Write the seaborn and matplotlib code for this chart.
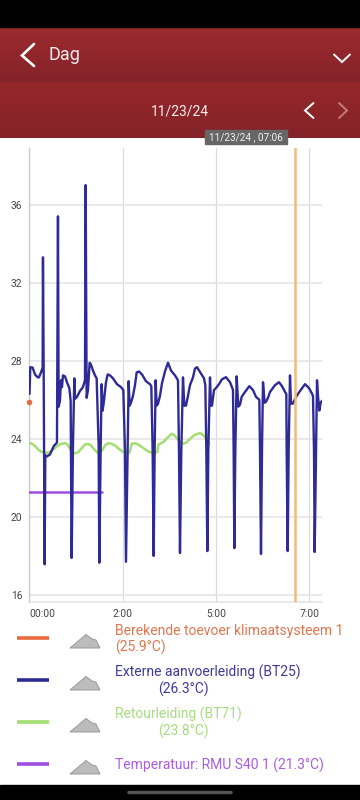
import numpy as np
import pandas as pd
import matplotlib
matplotlib.use("Agg")
import matplotlib.pyplot as plt
from matplotlib.patches import Polygon, Rectangle, FancyBboxPatch
import seaborn as sns

# ---------- data ----------
bt25_min = [0.3,1.5,5,8.5,12.5,14.5,17.5,20,20.5,21.5,23,24,26.5,31,37,41.5,43,44,46,47.5,49,50.5,53.5,56.5,60,62,63.5,65.5,67.5,68.5,71.5,76,80.5,83.5,84.5,86,88,90.5,92.5,95.5,98.5,101,102,104,105,107,108.5,110,112,115,117.5,121,125.5,131.5,137.5,141,143.5,145,147.5,149,150.5,152.5,155.5,158.5,161,164.5,169,175,181,183,185,186.5,188,189.5,191,193,196,199,203.5,208,212.5,218.5,223,224.5,226,228,230.5,232.5,235,238,241,245.5,248.5,251.5,257.5,262,264,265.5,267,268.5,271,272.5,274,277,280,284.5,289,295,301,304,305.5,306.5,307.5,309,311,313.5,316,318.5,323.5,330,335.5,340,345,346,347.5,349,350.5,353,355,358,361,368.5,374.5,379,383.5,385.5,386,387.5,389,391,392.5,395,401,406,413.5,419.5,423.5,425.5,427,428,430,431.5,433,435,437,439]
bt25_val = [26.3,27.67,27.65,27.3,27.15,27.15,27.4,27.65,33.3,27.75,17.57,23.15,23.1,23.2,23.65,23.8,35.4,25.65,25.95,27,26.65,27.25,27.2,26.9,26.6,25.95,17.9,23.65,27.1,26.05,26.15,26.45,26.65,27,37,26.1,26.5,27.9,27.8,27.5,27.25,27.1,25.95,23.65,17.65,23.4,26.8,25.45,25.95,26.9,27.3,27.25,27.1,26.8,26.65,26.5,23.4,17.7,23.65,26.95,25.7,25.85,26.2,26.75,27.4,27.45,27.3,26.95,26.8,26.7,23.4,18,23.4,27,25.7,25.8,26.2,26.85,27.45,27.9,27.5,27.25,27,23.4,18.15,23.4,27.15,25.7,25.7,26.2,26.75,27.15,27.6,27.67,27.35,27.1,26.75,23.4,18.25,23.4,27.15,25.7,25.7,26.5,26.6,26.8,27.05,27.16,26.9,26.65,26.5,23.4,18.4,23.4,27.2,25.65,25.75,26.15,26.4,26.7,26.5,26.15,26,23.4,18.1,23.4,26.9,25.85,25.9,26.1,26.4,26.75,26.9,26.7,26.4,26.3,23.4,18.25,23.4,27.25,25.8,25.8,26.2,26.45,26.8,26.6,26.35,26.2,23.4,18.2,23.4,27,26.2,25.45,25.85,25.95]

bt71_min = [0,3,6,10,13.5,18,23.5,27,31,36,41,47,53.5,56,58.5,62,66,70,73.5,78,83.5,88,92,97,102,106,109,113.5,118.5,123,128.5,135,141,150,152,153.5,157,161,168,176,181,186,192,193.5,197,201,207,213.5,217,221,226,231,236,241,248,256,260,263.5,267,270]
bt71_val = [23.78,23.77,23.71,23.58,23.44,23.34,23.29,23.28,23.32,23.46,23.6,23.73,23.78,23.74,23.65,23.42,23.27,23.27,23.32,23.5,23.71,23.74,23.68,23.48,23.3,23.27,23.4,23.66,23.78,23.75,23.66,23.47,23.32,23.29,23.5,23.75,23.77,23.75,23.6,23.4,23.32,23.27,23.32,23.7,23.77,23.83,24.05,24.26,24.2,24.05,23.85,23.75,23.82,24.0,24.2,24.29,24.22,24.09,23.9,23.75]

rmu_min = [0, 54, 108.5]
rmu_val = [21.3, 21.3, 21.3]

calc_min = [0]
calc_val = [25.9]

cursor_min = 398.5
y_ticks = [16, 20, 24, 28, 32, 36]
x_ticks = [0, 140, 280, 420]
x_labels = ["00:00", "2:00", "5:00", "7:00"]
legend_colors = ["#e96a3e", "#2e2a96", "#a4dd72", "#a04de0"]
text_colors = ["#e0764f", "#3f3b98", "#a8dc80", "#a85ee0"]

# ---------- figure ----------
sns.set_theme(style="white")
plt.rcParams["font.family"] = ["Roboto", "DejaVu Sans"]
W, H = 360, 800
fig = plt.figure(figsize=(W/100, H/100), dpi=100, facecolor="white")

bg = fig.add_axes([0, 0, 1, 1], zorder=0)
bg.set_xlim(0, W); bg.set_ylim(H, 0); bg.axis("off")

def grad(y0, y1, c0, c1):
    g = np.linspace(0, 1, 64)[:, None]
    cmap = matplotlib.colors.LinearSegmentedColormap.from_list("g", [c0, c1])
    bg.imshow(g, extent=(0, W, y1, y0), cmap=cmap, aspect="auto", zorder=1)

bg.add_patch(Rectangle((0, 0), W, 26.5, color="black", zorder=2))
bg.add_patch(Rectangle((0, 785), W, 15, color="black", zorder=2))
grad(27, 83, "#9c2a2e", "#84232a")
grad(83, 138.5, "#952729", "#84232a")
bg.set_xlim(0, W); bg.set_ylim(H, 0)
bg.add_patch(FancyBboxPatch((128, 791.5), 104, 2, boxstyle="round,pad=0,rounding_size=1", color="#555555", zorder=3))

def chev(xs, ys, color="white", lw=2.0):
    bg.plot(xs, ys, color=color, lw=lw, solid_capstyle="round", solid_joinstyle="miter", zorder=4)

chev([34, 22, 34], [44, 55.5, 66], lw=1.9)
chev([334, 342, 350], [54.5, 62, 54.5], lw=1.4)
chev([313.5, 305, 313.5], [103, 110.5, 118], lw=1.4)
chev([339, 347, 339], [103, 110.5, 118], color="#c77a7c", lw=1.4)
bg.text(48, 55.5, "Dag", color="#f6eeee", fontsize=13, va="center", ha="left", zorder=4)
bg.text(180, 111, "11/23/24", color="#f6eeee", fontsize=10, va="center", ha="center", zorder=4)
bg.add_patch(Rectangle((205, 130), 82, 13.5, color="#666666", zorder=5))
bg.text(246, 137, "11/23/24 , 07:06", color="#f0f0f0", fontsize=7.2, va="center", ha="center", zorder=6)

# ---------- chart ----------
left, right, top, bottom = 29.3, 322, 148, 602
ax = fig.add_axes([left/W, 1-bottom/H, (right-left)/W, (bottom-top)/H], zorder=2)
ax.patch.set_alpha(0)
ax.set_xlim(0, 439)
ax.set_ylim(15.64, 38.9)

ax.set_yticks(y_ticks); ax.set_xticks(x_ticks); ax.set_xticklabels(x_labels)
ax.grid(axis="y", color="#e3e3e3", lw=1.1)
ax.grid(axis="x", color="#dcdcdc", lw=0.9)
ax.set_axisbelow(True)
for s in ["top", "right"]:
    ax.spines[s].set_visible(False)
ax.spines["left"].set_color("#cccccc"); ax.spines["left"].set_linewidth(1.0)
ax.spines["bottom"].set_color("#e3e3e3"); ax.spines["bottom"].set_linewidth(1.1)
ax.tick_params(axis="both", length=0, labelsize=7.4, labelcolor="#444444")
ax.tick_params(axis="x", pad=5)
ax.tick_params(axis="y", pad=5)
ax.get_xticklabels()[0].set_ha("left")
ax.get_xticklabels()[0].set_x(-1)

joins = dict(solid_joinstyle="round", solid_capstyle="round")
sns.lineplot(x=rmu_min, y=rmu_val, ax=ax, color="#a04de0", lw=1.8, sort=False, estimator=None, zorder=3, **joins)
sns.lineplot(x=bt71_min, y=bt71_val, ax=ax, color="#a4dd72", lw=1.8, sort=False, estimator=None, zorder=3, **joins)
sns.lineplot(x=bt25_min, y=bt25_val, ax=ax, color="#2e2a96", lw=1.7, sort=False, estimator=None, zorder=4, **joins)
ax.axvline(cursor_min, color="#f0bb7c", lw=1.8, zorder=5)
sns.scatterplot(x=calc_min, y=calc_val, ax=ax, color="#e96a3e", s=16, linewidth=0, clip_on=False, zorder=6)
ax.set_xlabel(""); ax.set_ylabel("")

# ---------- legend ----------
rows = [
    (638, [("Berekende toevoer klimaatsysteem 1", 115, 630.5), ("(25.9°C)", 115, 647.5)]),
    (680, [("Externe aanvoerleiding (BT25)", 115, 672.5), ("(26.3°C)", 158, 689.5)]),
    (722, [("Retourleiding (BT71)", 115, 714.5), ("(23.8°C)", 158, 731.5)]),
    (764, [("Temperatuur: RMU S40 1 (21.3°C)", 115, 765)]),
]
for i, (yc, lines) in enumerate(rows):
    bg.plot([17, 49], [yc, yc], color=legend_colors[i], lw=2.6, solid_capstyle="butt", zorder=3)
    pts = [(70, yc+10), (86, yc-3.5), (92, yc+1), (96, yc+2), (100, yc+10)]
    bg.add_patch(Polygon(pts, closed=True, facecolor="#bcbcbc", edgecolor="#9a9a9a", lw=0.7, zorder=3))
    for t, x, y in lines:
        bg.text(x, y, t, color=text_colors[i], fontsize=10, va="center", ha="left", zorder=3)

fig.savefig("out.png", dpi=100)
